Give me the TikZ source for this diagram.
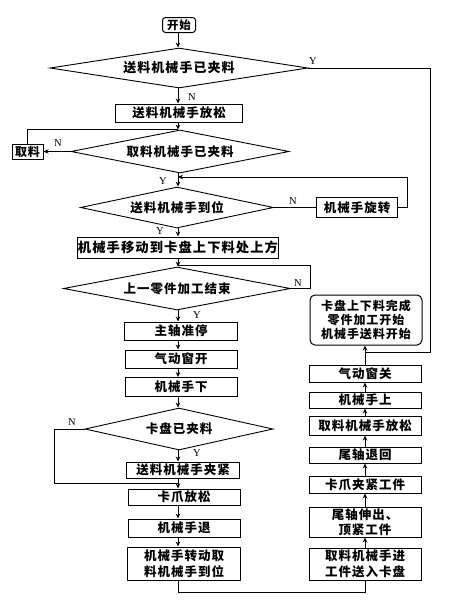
\documentclass[tikz,border=0pt]{standalone}
\usepackage{fontspec}
\setmainfont{Noto Sans CJK SC}[LetterSpace=8]
\newfontfamily\lat{Liberation Serif}
\usetikzlibrary{shapes.geometric,arrows.meta}
\begin{document}
\begin{tikzpicture}[x=1pt,y=-1pt,
  txt/.style={font=\bfseries\fontsize{12.5}{15}\selectfont},
  box/.style={draw, line width=1pt, rectangle, inner sep=0pt, align=center, txt},
  rbox/.style={box, rounded corners=5pt},
  dia/.style={draw, diamond, aspect=5, inner sep=0pt, line width=0.9pt, txt},
  lbl/.style={font=\lat\fontsize{10.5}{10.5}\selectfont, inner sep=0pt},
  arr/.style={-{Stealth[length=5pt,width=4.5pt]}, line width=1pt},
  ln/.style={line width=1pt}]
\useasboundingbox (0,0) rectangle (462,605);
\coordinate (trunk) at (178,0);
% left / main column
\node[rbox, rounded corners=3pt, minimum width=33pt, minimum height=15pt, font=\bfseries\fontsize{11.5}{14}\selectfont] (start) at (179,25) {开始};
\node[dia, minimum width=258pt, minimum height=40pt, font=\bfseries\fontsize{13}{15}\selectfont] (d1) at (179,68) {送料机械手已夹料};
\node[box, minimum width=127pt, minimum height=18pt] (b1) at (179,113) {送料机械手放松};
\node[dia, minimum width=218pt, minimum height=43pt] (d2) at (180,151.5) {取料机械手已夹料};
\node[box, minimum width=31pt, minimum height=15pt, font=\bfseries\fontsize{12}{14}\selectfont] (qu) at (27.5,151.5) {取料};
\node[dia, minimum width=193pt, minimum height=41pt] (d3) at (177,207.5) {送料机械手到位};
\node[box, minimum width=81pt, minimum height=20pt] (xz) at (357,207.5) {机械手旋转};
\node[box, minimum width=194pt, minimum height=21pt, font=\bfseries\fontsize{13.3}{15}\selectfont] (b2) at (178,247.5) {机械手移动到卡盘上下料处上方};
\node[dia, minimum width=227pt, minimum height=43pt] (d4) at (177,288.5) {上一零件加工结束};
\node[box, minimum width=113pt, minimum height=18pt] (b3) at (181,331) {主轴准停};
\node[box, minimum width=112pt, minimum height=18pt] (b4) at (181,359) {气动窗开};
\node[box, minimum width=112pt, minimum height=19pt] (b5) at (181,387) {机械手下};
\node[dia, minimum width=188pt, minimum height=42pt] (d5) at (179,429) {卡盘已夹料};
\node[box, minimum width=113pt, minimum height=16pt] (b6) at (183,470) {送料机械手夹紧};
\node[box, minimum width=112pt, minimum height=16pt] (b7) at (184,497) {卡爪放松};
\node[box, minimum width=112pt, minimum height=18pt] (b8) at (184,528) {机械手退};
\node[box, minimum width=113pt, minimum height=33pt, font=\bfseries\fontsize{12.5}{16}\selectfont] (b9) at (184,563.5) {机械手转动取\\料机械手到位};
% right column
\node[rbox, minimum width=112pt, minimum height=50pt, font=\bfseries\fontsize{12}{14}\selectfont] (rb) at (366,320) {卡盘上下料完成\\零件加工开始\\机械手送料开始};
\node[box, minimum width=112pt, minimum height=17pt] (r7) at (365,373.5) {气动窗关};
\node[box, minimum width=112pt, minimum height=16pt] (r6) at (365,400) {机械手上};
\node[box, minimum width=112pt, minimum height=19pt] (r5) at (365,425.5) {取料机械手放松};
\node[box, minimum width=112pt, minimum height=16pt] (r4) at (365,455) {尾轴退回};
\node[box, minimum width=112pt, minimum height=17pt] (r3) at (365,484.5) {卡爪夹紧工件};
\node[box, minimum width=112pt, minimum height=30pt, font=\bfseries\fontsize{12.5}{15}\selectfont] (r2) at (365,522) {尾轴伸出、\\顶紧工件};
\node[box, minimum width=112pt, minimum height=32pt, font=\bfseries\fontsize{12.5}{16}\selectfont] (r1) at (365,564) {取料机械手进\\工件送入卡盘};
% labels
\node[lbl] (y1) at (313,61) {Y};
\node[lbl] (n1) at (192,97) {N};
\node[lbl] (n2) at (58,143) {N};
\node[lbl] (y2) at (163,181) {Y};
\node[lbl] (n3) at (293,201) {N};
\node[lbl] (y3) at (160,231) {Y};
\node[lbl] (n4) at (298,283) {N};
\node[lbl] (y4) at (197,315) {Y};
\node[lbl] (n5) at (72,422) {N};
\node[lbl] (y5) at (197,453) {Y};
% junction coordinates
\coordinate (j1a) at (430,68);
\coordinate (j1b) at (430,352);
\coordinate (j1c) at (365,352);
\coordinate (j2) at (27.5,129);
\coordinate (j3a) at (407,207.5);
\coordinate (j3b) at (407,177);
\coordinate (j4a) at (310,288.5);
\coordinate (j4b) at (310,265);
\coordinate (j5a) at (54,429);
\coordinate (j5b) at (54,483);
\coordinate (j6) at (178,592);
\coordinate (j6b) at (365,592);
% trunk arrows
\draw[arr] (start.south -| trunk) -- (d1.north -| trunk);
\draw[arr] (d1.south -| trunk) -- (b1.north -| trunk);
\draw[arr] (b1.south -| trunk) -- (d2.north -| trunk);
\draw[arr] (d2.south -| trunk) -- (d3.north -| trunk);
\draw[arr] (d3.south -| trunk) -- (b2.north -| trunk);
\draw[arr] (b2.south -| trunk) -- (d4.north -| trunk);
\draw[arr] (d4.south -| trunk) -- (b3.north -| trunk);
\draw[arr] (b3.south -| trunk) -- (b4.north -| trunk);
\draw[arr] (b4.south -| trunk) -- (b5.north -| trunk);
\draw[arr] (b5.south -| trunk) -- (d5.north -| trunk);
\draw[arr] (d5.south -| trunk) -- (b6.north -| trunk);
\draw[arr] (b6.south -| trunk) -- (b7.north -| trunk);
\draw[arr] (b7.south -| trunk) -- (b8.north -| trunk);
\draw[arr] (b8.south -| trunk) -- (b9.north -| trunk);
% loops
\draw[ln] (d1.east) -- (j1a) -- (j1b) -- (j1c);
\draw[arr] (d2.west) -- (qu.east);
\draw[ln] (qu.north) -- (j2) -- (j2 -| trunk);
\draw[ln] (d3.east) -- (xz.west);
\draw[arr] (xz.east) -- (j3a) -- (j3b) -- (j3b -| trunk);
\draw[ln] (d4.east) -- (j4a) -- (j4b) -- (j4b -| trunk);
\draw[ln] (d5.west) -- (j5a) -- (j5b) -- (j5b -| trunk);
\draw[ln] (b9.south -| trunk) -- (j6) -- (j6b) -- (r1.south);
% right column arrows (upward)
\draw[arr] (r1.north) -- (r2.south);
\draw[arr] (r2.north) -- (r3.south);
\draw[arr] (r3.north) -- (r4.south);
\draw[arr] (r4.north) -- (r5.south);
\draw[arr] (r5.north) -- (r6.south);
\draw[arr] (r6.north) -- (r7.south);
\draw[arr] (r7.north) -- (rb.south -| r7.north);
\end{tikzpicture}
\end{document}
